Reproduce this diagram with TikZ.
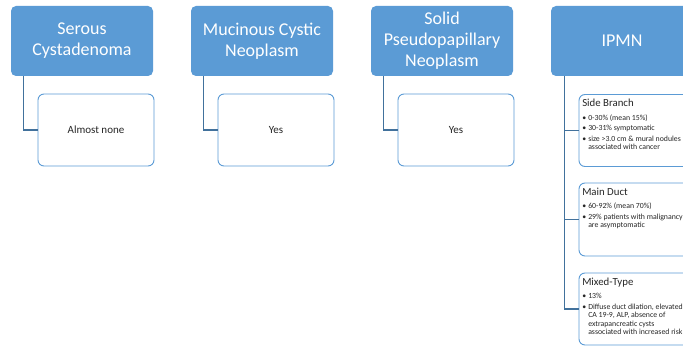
\documentclass[tikz,border=0pt]{standalone}
\usepackage{fontspec}
\setmainfont{Carlito}
\definecolor{hb}{HTML}{5B9BD5}
\definecolor{cb}{HTML}{5B9BD5}
\definecolor{lc}{HTML}{41719C}
\newcommand{\bul}{\makebox[6pt][l]{•}}
\newcommand{\cont}{\hspace*{6pt}}
\newcommand{\ttl}[1]{{\fontsize{10.8}{12}\selectfont #1}}
\begin{document}
\begin{tikzpicture}[x=1pt,y=-1pt,
  head/.style={fill=hb, rounded corners=5pt, minimum width=142pt, minimum height=70pt, text=white, font=\fontsize{18}{21}\selectfont, align=center, inner sep=0pt},
  child/.style={draw=cb, line width=0.9pt, fill=white, rounded corners=6pt, minimum width=116pt, minimum height=72pt, font=\fontsize{11}{13}\selectfont, text=black!85, inner sep=0pt},
  conn/.style={draw=lc, line width=1.1pt},
  info/.style={anchor=north west, inner sep=0pt, align=left, text=black!85, font=\fontsize{7.8}{8.5}\selectfont}
]
\useasboundingbox (0,0) rectangle (683,347);
\clip (0,0) rectangle (683,347);

\node[head] (s1) at (82,41) {Serous\\Cystadenoma};
\node[head, minimum height=70pt] (s2) at (262,41) {Mucinous Cystic\\Neoplasm};
\node[head] (s3) at (442,41) {Solid\\Pseudopapillary\\Neoplasm};
\node[head] (s4) at (622,41) {IPMN};

\node[child] (c1) at (96,130) {Almost none};
\node[child] (c2) at (276,130) {Yes};
\node[child] (c3) at (456,130) {Yes};

\node[child] (p1) at (637,130.5) {};
\node[child, minimum height=73pt] (p2) at (637,219.5) {};
\node[child] (p3) at (637,309) {};

\node[info] (t1) at ([xshift=3.5pt,yshift=-5pt]p1.north west) {%
\ttl{Side Branch}\\[5pt]
\bul 0-30\% (mean 15\%)\\[2pt]
\bul 30-31\% symptomatic\\[2pt]
\bul size >3.0 cm \& mural nodules\\
\cont associated with cancer};

\node[info] (t2) at ([xshift=3.5pt,yshift=-5pt]p2.north west) {%
\ttl{Main Duct}\\[5pt]
\bul 60-92\% (mean 70\%)\\[2pt]
\bul 29\% patients with malignancy\\
\cont are asymptomatic};

\node[info] (t3) at ([xshift=3.5pt,yshift=-5pt]p3.north west) {%
\ttl{Mixed-Type}\\[5pt]
\bul 13\%\\[2pt]
\bul Diffuse duct dilation, elevated\\
\cont CA 19-9, ALP, absence of\\
\cont extrapancreatic cysts\\
\cont associated with increased risk};

\path (s1.south west) ++(13,0) coordinate (a1);
\path (s2.south west) ++(13,0) coordinate (a2);
\path (s3.south west) ++(13,0) coordinate (a3);
\path (s4.south west) ++(14,0) coordinate (a4);
\draw[conn] (a1) |- (c1.west);
\draw[conn] (a2) |- (c2.west);
\draw[conn] (a3) |- (c3.west);
\draw[conn] (a4) |- (p3.west);
\draw[conn] (a4 |- p1.west) -- (p1.west);
\draw[conn] (a4 |- p2.west) -- (p2.west);
\end{tikzpicture}
\end{document}
